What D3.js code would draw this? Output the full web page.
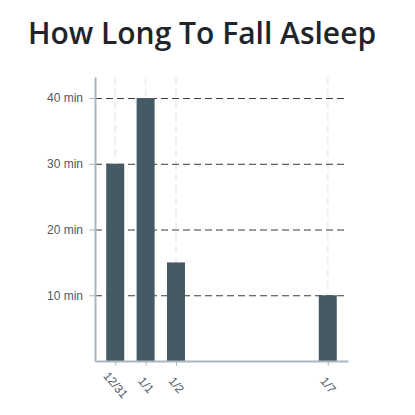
<!DOCTYPE html>
<html>
<head>
<meta charset="utf-8">
<script src="https://cdn.jsdelivr.net/npm/d3@7"></script>
<style>
  body { margin: 0; background: #fff; }
  svg { display: block; }
</style>
</head>
<body>
<script>
// data
const nights = ["2023-12-31", "2024-01-01", "2024-01-02", "2024-01-07"];
const minutes = [30, 40, 15, 10];
const yTicks = [10, 20, 30, 40];
const title = "How Long To Fall Asleep";

const parse = d3.timeParse("%Y-%m-%d");
const data = nights.map((n, i) => ({ date: parse(n), value: minutes[i] }));

const W = 415, H = 415;
const plotLeft = 95, plotRight = 348, plotTop = 77, plotBottom = 361;

const svg = d3.select("body").append("svg")
  .attr("width", W)
  .attr("height", H);

svg.append("text")
  .attr("x", 202)
  .attr("y", 44)
  .attr("text-anchor", "middle")
  .style("font-family", "'Open Sans', sans-serif")
  .style("font-weight", 600)
  .style("font-size", "30px")
  .style("fill", "#212529")
  .text(title);

// pad the time domain a bit on both sides
const first = data[0].date, last = data[data.length - 1].date;
const x = d3.scaleTime()
  .domain([d3.timeHour.offset(first, -16), d3.timeHour.offset(last, 16)])
  .range([plotLeft, plotRight]);

const y = d3.scaleLinear()
  .domain([0, 43.2])
  .range([plotBottom, plotTop]);

// vertical grid
svg.append("g")
  .selectAll("line")
  .data(data)
  .join("line")
  .attr("x1", d => x(d.date))
  .attr("x2", d => x(d.date))
  .attr("y1", plotTop)
  .attr("y2", plotBottom)
  .attr("stroke", "#efefef")
  .attr("stroke-width", 2)
  .attr("stroke-dasharray", "8,4");

// horizontal grid
svg.append("g")
  .attr("transform", `translate(${plotLeft},0)`)
  .call(d3.axisLeft(y).tickValues(yTicks).tickSize(-(plotRight - plotLeft)).tickFormat(""))
  .call(g => g.select(".domain").remove())
  .call(g => g.selectAll("line")
    .attr("stroke", "#3a3a3a")
    .attr("stroke-dasharray", "7,4"));

const barW = 18;
svg.append("g")
  .selectAll("rect")
  .data(data)
  .join("rect")
  .attr("x", d => x(d.date) - barW / 2)
  .attr("y", d => y(d.value))
  .attr("width", barW)
  .attr("height", d => y(0) - y(d.value))
  .attr("fill", "#455a64");

const axisColor = "#a9b7c2";
const labelColor = "#4e5a64";

const yAxis = svg.append("g")
  .attr("transform", `translate(${plotLeft},0)`)
  .call(d3.axisLeft(y).tickValues(yTicks).tickSize(6).tickSizeOuter(0).tickPadding(6)
    .tickFormat(d => d + " min"));

const xAxis = svg.append("g")
  .attr("transform", `translate(0,${plotBottom})`)
  .call(d3.axisBottom(x).tickValues(data.map(d => d.date)).tickSize(5).tickSizeOuter(0)
    .tickFormat(d3.timeFormat("%-m/%-d")));

[yAxis, xAxis].forEach(ax => {
  ax.select(".domain").attr("stroke", axisColor).attr("stroke-width", 2);
  ax.selectAll(".tick line").attr("stroke", axisColor);
  ax.selectAll("text")
    .style("font-family", "'Liberation Sans', Arial, sans-serif")
    .style("font-size", "12px")
    .attr("fill", labelColor);
});

xAxis.selectAll(".tick text")
  .attr("y", 0)
  .attr("dy", "0.35em")
  .attr("text-anchor", "middle")
  .attr("transform", "translate(0,24) rotate(50)");
</script>
</body>
</html>
